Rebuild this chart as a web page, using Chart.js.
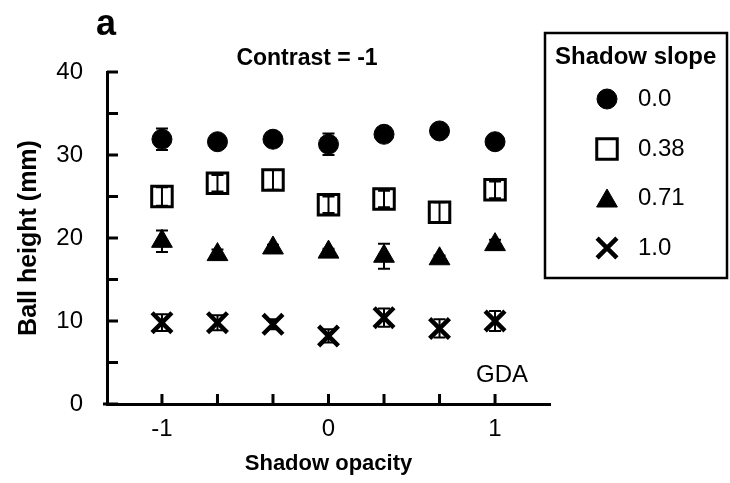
<!DOCTYPE html>
<html>
<head>
<meta charset="utf-8">
<script src="https://cdn.jsdelivr.net/npm/chart.js@4/dist/chart.umd.min.js"></script>
<style>
  html, body { margin: 0; padding: 0; background: #fff; }
  canvas { display: block; }
</style>
</head>
<body>
<canvas id="chart" width="730" height="483"></canvas>
<script>
const FONT = '"Liberation Sans", Arial, Helvetica, sans-serif'

const opacity = [-1, -2 / 3, -1 / 3, 0, 1 / 3, 2 / 3, 1]
const slopeLabels = ['0.0', '0.38', '0.71', '1.0']
const height00 = [31.9, 31.6, 31.9, 31.3, 32.5, 32.9, 31.6]
const err00 = [1.3, 0.5, 0.5, 1.3, 0.5, 0.5, 0.5]
const height038 = [25.0, 26.6, 27.0, 24.0, 24.7, 23.1, 25.8]
const err038 = [1.1, 1.0, 1.2, 1.0, 1.0, 1.2, 1.0]
const height071 = [19.6, 18.0, 18.8, 18.3, 17.8, 17.5, 19.2]
const err071 = [1.3, 0.6, 0.4, 0.4, 1.5, 0.4, 0.6]
const height10 = [9.8, 9.8, 9.6, 8.2, 10.4, 9.1, 10.0]
const err10 = [1.0, 0.9, 0.6, 0.8, 1.1, 1.1, 1.2]
const yTicks = [0, 5, 10, 15, 20, 25, 30, 35, 40]

const toPoints = (ys) => ys.map((y, i) => ({ x: opacity[i], y }))

const styles = [
  { pointStyle: 'circle', radius: 10, borderWidth: 1, fill: '#000' },
  { pointStyle: 'rect', radius: 14.5, borderWidth: 3, fill: 'rgba(0,0,0,0)' },
  { pointStyle: 'triangle', radius: 12, borderWidth: 1, fill: '#000' },
  { pointStyle: 'crossRot', radius: 14, borderWidth: 4.5, fill: '#000' }
]

const series = [height00, height038, height071, height10]
const errors = [err00, err038, err071, err10]

const datasets = series.map((ys, i) => ({
  label: slopeLabels[i],
  data: toPoints(ys),
  errors: errors[i],
  showLine: false,
  pointStyle: styles[i].pointStyle,
  pointRadius: styles[i].radius,
  pointHoverRadius: styles[i].radius,
  pointBorderWidth: styles[i].borderWidth,
  pointBackgroundColor: styles[i].fill,
  pointBorderColor: '#000',
  clip: false
}))

// error bars behind the markers, inward tick marks on top
const marksPlugin = {
  id: 'marks',
  beforeDatasetsDraw (chart) {
    const { ctx, scales: { x, y } } = chart
    ctx.save()
    ctx.strokeStyle = '#000'
    ctx.lineWidth = 2
    chart.data.datasets.forEach((ds) => {
      ds.data.forEach((p, i) => {
        const e = ds.errors[i]
        const px = x.getPixelForValue(p.x)
        const top = y.getPixelForValue(p.y + e)
        const bot = y.getPixelForValue(p.y - e)
        ctx.beginPath()
        ctx.moveTo(px, top); ctx.lineTo(px, bot)
        ctx.moveTo(px - 6, top); ctx.lineTo(px + 6, top)
        ctx.moveTo(px - 6, bot); ctx.lineTo(px + 6, bot)
        ctx.stroke()
      })
    })
    ctx.restore()
  },
  afterDatasetsDraw (chart) {
    const { ctx, scales: { x, y } } = chart
    ctx.save()
    ctx.strokeStyle = '#000'
    ctx.lineWidth = 3
    ctx.beginPath()
    y.ticks.forEach((t) => {
      const py = y.getPixelForValue(t.value)
      ctx.moveTo(y.right, py); ctx.lineTo(y.right + 11, py)
    })
    x.ticks.forEach((t) => {
      const px = x.getPixelForValue(t.value)
      ctx.moveTo(px, x.top); ctx.lineTo(px, x.top - 10)
    })
    ctx.moveTo(x.left - 4, x.top); ctx.lineTo(x.left, x.top)
    ctx.stroke()
    ctx.restore()
  }
}

const drawMarker = (ctx, st, cx, cy) => {
  ctx.fillStyle = st.fill
  ctx.strokeStyle = '#000'
  ctx.lineWidth = st.borderWidth
  Chart.helpers.drawPoint(ctx, { pointStyle: st.pointStyle, radius: st.radius, borderWidth: st.borderWidth, rotation: 0 }, cx, cy)
}

// panel letter, title, GDA note and boxed legend
const annotatePlugin = {
  id: 'annotate',
  afterDraw (chart) {
    const { ctx } = chart
    ctx.save()
    ctx.fillStyle = '#000'
    ctx.textBaseline = 'alphabetic'
    ctx.textAlign = 'center'
    ctx.font = 'bold 36px ' + FONT
    ctx.fillText('a', 106, 35)
    ctx.font = 'bold 23px ' + FONT
    ctx.fillText('Contrast = -1', 307, 65)
    ctx.font = '24px ' + FONT
    ctx.fillText('GDA', 502, 382)

    ctx.strokeStyle = '#000'
    ctx.lineWidth = 2.5
    ctx.strokeRect(545, 33, 182, 245)
    ctx.font = 'bold 24px ' + FONT
    ctx.textAlign = 'left'
    ctx.fillText('Shadow slope', 555, 64)
    ctx.font = '24px ' + FONT
    ctx.textBaseline = 'middle'
    const rows = [99, 149, 198, 248]
    slopeLabels.forEach((lab, i) => {
      ctx.fillStyle = '#000'
      ctx.fillText(lab, 638, rows[i])
      drawMarker(ctx, styles[i], 607, rows[i] + (i === 2 ? 3 : 0))
    })
    ctx.restore()
  }
}

const CONFIG = {
  type: 'scatter',
  data: { datasets },
  options: {
    responsive: false,
    animation: false,
    events: [],
    layout: { padding: { left: 0, top: 72, right: 180, bottom: 0 } },
    plugins: {
      legend: { display: false },
      tooltip: { enabled: false }
    },
    scales: {
      x: {
        type: 'linear',
        min: -1.33,
        max: 1.33,
        afterBuildTicks: (scale) => { scale.ticks = opacity.map((v) => ({ value: v })) },
        afterFit: (scale) => { scale.height = 79 },
        grid: { display: false, drawTicks: false },
        border: { display: true, color: '#000', width: 3 },
        ticks: {
          color: '#000',
          padding: 11,
          maxRotation: 0,
          autoSkip: false,
          font: { family: FONT, size: 24 },
          callback: (v) => Math.abs(v - Math.round(v)) < 1e-6 ? String(Math.round(v)) : ''
        },
        title: {
          display: true,
          text: 'Shadow opacity',
          color: '#000',
          font: { family: FONT, size: 22, weight: 'bold' },
          padding: { top: 0, bottom: 6 }
        }
      },
      y: {
        type: 'linear',
        min: 0,
        max: 40,
        afterBuildTicks: (scale) => { scale.ticks = yTicks.map((v) => ({ value: v })) },
        afterFit: (scale) => { scale.width = 107 },
        grid: { display: false, drawTicks: false },
        border: { display: true, color: '#000', width: 3 },
        ticks: {
          color: '#000',
          padding: 24,
          autoSkip: false,
          font: { family: FONT, size: 24 },
          callback: (v) => v % 10 === 0 ? String(v) : ''
        },
        title: {
          display: true,
          text: 'Ball height (mm)',
          color: '#000',
          font: { family: FONT, size: 25, weight: 'bold' },
          padding: { top: 14, bottom: 0 }
        }
      }
    }
  },
  plugins: [marksPlugin, annotatePlugin]
}

// eslint-disable-next-line no-unused-vars
const chart = new Chart(document.getElementById('chart'), CONFIG)
</script>
</body>
</html>
